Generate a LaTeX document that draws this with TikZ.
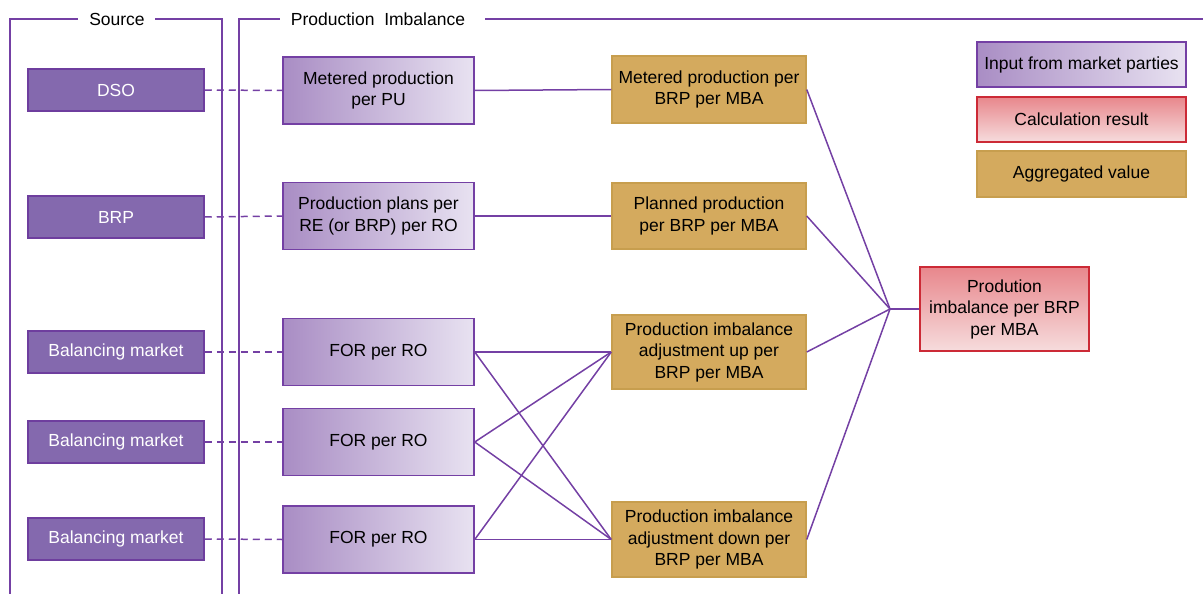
\documentclass[tikz,border=0pt]{standalone}
\usepackage{fontspec}
\setmainfont{Liberation Sans}
\definecolor{lnpurple}{HTML}{7440A4}
\definecolor{srcfill}{HTML}{8469AE}
\definecolor{srcdraw}{HTML}{6E3E9E}
\definecolor{inleft}{HTML}{A98DC4}
\definecolor{inright}{HTML}{E8E2F1}
\definecolor{aggfill}{HTML}{D4AA5E}
\definecolor{aggdraw}{HTML}{C79E4E}
\definecolor{restop}{HTML}{E8878C}
\definecolor{resbot}{HTML}{F6DCDD}
\definecolor{resdraw}{HTML}{CC2A36}
\begin{document}
\begin{tikzpicture}[x=1pt,y=-1pt,
  every node/.style={font=\fontsize{17.5}{21.5}\selectfont, align=center, inner sep=0pt},
  srcbox/.style={draw=srcdraw, line width=1.5pt, fill=srcfill, text=white, minimum width=176pt, minimum height=42pt},
  inbox/.style={draw=lnpurple, line width=1.5pt, left color=inleft, right color=inright, minimum width=191pt, minimum height=67pt},
  aggbox/.style={draw=aggdraw, line width=1.5pt, fill=aggfill, minimum width=194pt},
  resbox/.style={draw=resdraw, line width=1.5pt, top color=restop, bottom color=resbot, minimum width=169pt, minimum height=84pt},
  conn/.style={draw=lnpurple, line width=1.5pt},
  dconn/.style={draw=lnpurple, line width=1.5pt, dashed, dash pattern=on 7pt off 5pt},
  frame/.style={draw=lnpurple, line width=1.5pt}]
\useasboundingbox (0,0) rectangle (1203,594);
% frames
\node (srct) at (117,19) {Source};
\node (pit) at (378,19) {Production\ \ Imbalance};
\draw[frame] (10,594) -- (10,19) -- (78,19);
\draw[frame] (155,19) -- (222,19) -- (222,594);
\draw[frame] (239,594) -- (239,19) -- (280,19);
\draw[frame] (485,19) -- (1203,19);
% source nodes
\node[srcbox] (dso) at (116,90) {DSO};
\node[srcbox] (brp) at (116,217) {BRP};
\node[srcbox] (bm1) at (116,352) {Balancing market};
\node[srcbox] (bm2) at (116,442) {Balancing market};
\node[srcbox] (bm3) at (116,539) {Balancing market};
% input nodes
\node[inbox] (mpu) at (378.5,90.5) {Metered production\\per PU};
\node[inbox] (pp) at (378.5,216) {Production plans per\\RE (or BRP) per RO};
\node[inbox] (for1) at (378.5,352) {FOR per RO};
\node[inbox] (for2) at (378.5,442) {FOR per RO};
\node[inbox] (for3) at (378.5,539.5) {FOR per RO};
% aggregated
\node[aggbox, minimum height=67pt] (mbrp) at (709,89.5) {Metered production per\\BRP per MBA};
\node[aggbox, minimum height=66pt] (plan) at (709,216) {Planned production\\per BRP per MBA};
\node[aggbox, minimum height=74pt] (up) at (709,352) {Production imbalance\\adjustment up per\\BRP per MBA};
\node[aggbox, minimum height=75pt] (down) at (709,539.5) {Production imbalance\\adjustment down per\\BRP per MBA};
% result
\node[resbox] (res) at (1004.5,309) {Prodution\\imbalance per BRP\\per MBA};
% legend
\node[draw=lnpurple, line width=1.5pt, left color=inleft, right color=inright, minimum width=209pt, minimum height=45pt] (lg1) at (1081.5,64.5) {Input from market parties};
\node[resbox, minimum width=209pt, minimum height=45pt] (lg2) at (1081.5,119.5) {Calculation result};
\node[aggbox, minimum width=209pt, minimum height=46pt] (lg3) at (1081.5,174) {Aggregated value};
% connectors
\coordinate (j) at (890,309);
\foreach \a/\b in {dso/mpu, brp/pp, bm1/for1, bm2/for2, bm3/for3}
  \draw[dconn] (\a.east) -- (\b.west);
\draw[conn] (mpu.east) -- (mbrp.west);
\draw[conn] (pp.east) -- (plan.west);
\foreach \a in {for1,for2,for3} {
  \draw[conn] (\a.east) -- (up.west);
  \draw[conn] (\a.east) -- (down.west);
}
\draw[conn] (mbrp.east) -- (j);
\draw[conn] (plan.east) -- (j);
\draw[conn] (up.east) -- (j);
\draw[conn] (down.east) -- (j);
\draw[conn] (j) -- (res.west);
\end{tikzpicture}
\end{document}
